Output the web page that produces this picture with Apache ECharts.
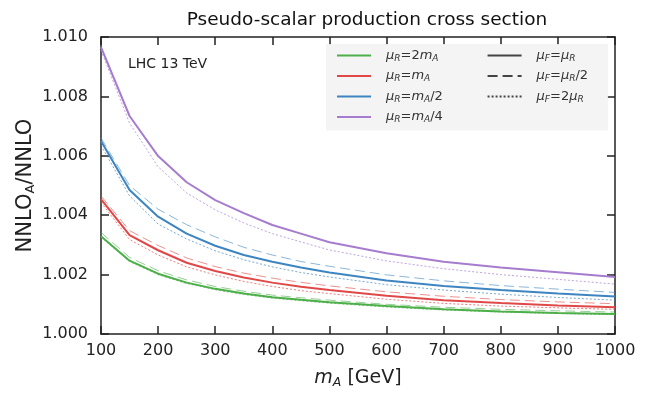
<!DOCTYPE html>
<html><head><meta charset="utf-8">
<script src="https://cdn.jsdelivr.net/npm/echarts@6/dist/echarts.min.js"></script>
<style>html,body{margin:0;padding:0;background:#fff}#c{width:648px;height:396px}</style>
</head><body><div id="c"></div>
<script>
var mA = [100,150,200,250,300,350,400,450,500,600,700,800,900,1000];
// mu_R = 2 m_A
var green_solid  = [1.00329,1.00247,1.00203,1.00173,1.00152,1.00136,1.00124,1.00115,1.00107,1.00094,1.00083,1.00076,1.00071,1.00067];
var green_dashed = [1.00342,1.00258,1.00213,1.00182,1.00160,1.00144,1.00131,1.00122,1.00114,1.00100,1.00090,1.00083,1.00078,1.00074];
var green_dotted = [1.00326,1.00244,1.00200,1.00170,1.00149,1.00133,1.00121,1.00112,1.00104,1.00091,1.00081,1.00074,1.00069,1.00065];
// mu_R = m_A
var red_solid  = [1.00454,1.00333,1.00282,1.00240,1.00212,1.00190,1.00173,1.00159,1.00148,1.00129,1.00114,1.00104,1.00096,1.00090];
var red_dashed = [1.00465,1.00348,1.00298,1.00256,1.00227,1.00205,1.00188,1.00174,1.00162,1.00142,1.00127,1.00116,1.00108,1.00102];
var red_dotted = [1.00443,1.00318,1.00266,1.00226,1.00199,1.00177,1.00160,1.00146,1.00136,1.00117,1.00103,1.00094,1.00088,1.00083];
// mu_R = m_A/2
var blue_solid  = [1.00650,1.00485,1.00395,1.00338,1.00297,1.00266,1.00243,1.00224,1.00207,1.00180,1.00162,1.00148,1.00136,1.00126];
var blue_dashed = [1.00660,1.00500,1.00420,1.00368,1.00327,1.00292,1.00266,1.00244,1.00228,1.00199,1.00179,1.00163,1.00151,1.00140];
var blue_dotted = [1.00635,1.00465,1.00370,1.00320,1.00280,1.00250,1.00226,1.00207,1.00192,1.00166,1.00148,1.00134,1.00123,1.00114];
// mu_R = m_A/4
var purple_solid  = [1.00966,1.00734,1.00599,1.00511,1.00451,1.00407,1.00367,1.00338,1.00309,1.00272,1.00243,1.00224,1.00208,1.00192];
var purple_dotted = [1.00955,1.00710,1.00563,1.00475,1.00418,1.00374,1.00338,1.00310,1.00283,1.00246,1.00220,1.00200,1.00184,1.00168];

var yTicks = [1.000,1.002,1.004,1.006,1.008,1.010];
var xTicks = [100,200,300,400,500,600,700,800,900,1000];

var C = {green:'#4daf4a', red:'#e04848', blue:'#3d85c0', purple:'#a57cce'};
var FONT = 'DejaVu Sans';
var NONE = 'rgba(0,0,0,0)';
var PAD = '\u00a0\u00a0\u00a0\u00a0\u00a0\u00a0\u00a0\u00a0\u00a0';

function pairs(arr){ return mA.map(function(x,i){ return [x, arr[i]]; }); }
function mk(name, arr, color, kind){
  var ls = {color: color, width: 2, type: 'solid', opacity: 1};
  if (kind === 'dashed'){ ls.width = 1; ls.type = [10,5]; ls.opacity = 0.6; }
  if (kind === 'dotted'){ ls.width = 1; ls.type = [2,2]; ls.opacity = 0.7; }
  return {name: name, type: 'line', data: pairs(arr), showSymbol: false, symbol: 'none',
          lineStyle: ls, itemStyle: {color: color}, z: kind === 'solid' ? 3 : 2, silent: true, animation: false};
}
function leg(name, color, type, width){
  return {name: name, type: 'line', data: [], symbol: 'circle', symbolSize: 0,
          lineStyle: {color: color, width: width, type: type},
          itemStyle: {color: NONE, borderColor: NONE, borderWidth: 0}};
}

var series = [
  mk('g_dot', green_dotted, C.green, 'dotted'),
  mk('g_dash', green_dashed, C.green, 'dashed'),
  mk('g_sol', green_solid, C.green, 'solid'),
  mk('r_dot', red_dotted, C.red, 'dotted'),
  mk('r_dash', red_dashed, C.red, 'dashed'),
  mk('r_sol', red_solid, C.red, 'solid'),
  mk('b_dot', blue_dotted, C.blue, 'dotted'),
  mk('b_dash', blue_dashed, C.blue, 'dashed'),
  mk('b_sol', blue_solid, C.blue, 'solid'),
  mk('p_dot', purple_dotted, C.purple, 'dotted'),
  mk('p_sol', purple_solid, C.purple, 'solid'),
  leg('L1', C.green, 'solid', 2),
  leg('L2', C.red, 'solid', 2),
  leg('L3', C.blue, 'solid', 2),
  leg('L4', C.purple, 'solid', 2),
  leg('L5', '#444', 'solid', 2),
  leg('L6', '#444', [10,5], 1),
  leg('L7', '#444', [2,2], 1)
];

var legendText = {
  L1: '{i|μ}{s|R}{n|=2}{i|m}{s|A}',
  L2: '{i|μ}{s|R}{n|=}{i|m}{s|A}',
  L3: '{i|μ}{s|R}{n|=}{i|m}{s|A}{n|/2' + PAD + '}',
  L4: '{i|μ}{s|R}{n|=}{i|m}{s|A}{n|/4' + PAD + '}',
  L5: '{i|μ}{s|F}{n|=}{i|μ}{s|R}',
  L6: '{i|μ}{s|F}{n|=}{i|μ}{s|R}{n|/2}',
  L7: '{i|μ}{s|F}{n|=2}{i|μ}{s|R}'
};
var legRich = {
  i: {fontFamily: FONT, fontSize: 13, fontStyle: 'italic', color: '#333'},
  n: {fontFamily: FONT, fontSize: 13, color: '#333'},
  s: {fontFamily: FONT, fontSize: 9, fontStyle: 'italic', color: '#333', padding: [6,0,0,0]}
};

var chart = echarts.init(document.getElementById('c'), null, {renderer: 'canvas'});
chart.setOption({
  animation: false,
  backgroundColor: '#fff',
  title: {text: 'Pseudo-scalar production cross section', left: 362, top: 6, textAlign: 'center',
          textStyle: {fontFamily: FONT, fontSize: 18.5, fontWeight: 'normal', color: '#111'}},
  grid: {left: 101, right: 33, top: 37, bottom: 62, show: false},
  legend: {
    data: ['L1','L2','L3','L4','L5','L6','L7'],
    orient: 'vertical', left: 326, top: 44, height: 86,
    backgroundColor: 'rgba(243,243,243,0.9)', padding: [5,20,6,10],
    itemWidth: 34, itemHeight: 10, itemGap: 6.5,
    selectedMode: false,
    formatter: function(n){ return legendText[n]; },
    textStyle: {fontFamily: FONT, fontSize: 13, color: '#333', padding: [0,0,0,10], rich: legRich}
  },
  xAxis: [{
    type: 'value', min: 100, max: 1000, interval: 100, position: 'bottom',
    name: '{i|m}{s|A}{n| [GeV]}', nameLocation: 'middle', nameGap: 34,
    nameTextStyle: {rich: {
      i: {fontFamily: FONT, fontSize: 19, fontStyle: 'italic', color: '#222'},
      n: {fontFamily: FONT, fontSize: 19, color: '#222'},
      s: {fontFamily: FONT, fontSize: 12.5, fontStyle: 'italic', color: '#222', padding: [8,0,0,0]}}},
    axisLine: {show: true, lineStyle: {color: '#222', width: 1.5}},
    axisTick: {show: true, inside: true, length: 8, lineStyle: {color: '#222', width: 1.5}},
    axisLabel: {fontFamily: FONT, fontSize: 16, color: '#222', margin: 9,
      formatter: function(v){ return String(v); }},
    splitLine: {show: false}
  },{
    type: 'value', min: 100, max: 1000, interval: 100, position: 'top',
    axisLine: {show: true, lineStyle: {color: '#222', width: 1.5}},
    axisTick: {show: true, inside: true, length: 8, lineStyle: {color: '#222', width: 1.5}},
    axisLabel: {show: false}, splitLine: {show: false}
  }],
  yAxis: [{
    type: 'value', min: 1.000, max: 1.010, interval: 0.002, position: 'left',
    name: '{n|NNLO}{s|A}{n|/NNLO}', nameLocation: 'middle', nameGap: 64, nameRotate: 90,
    nameMoveOverlap: false,
    nameTextStyle: {rich: {
      n: {fontFamily: FONT, fontSize: 21, color: '#222'},
      s: {fontFamily: FONT, fontSize: 13, color: '#222', padding: [9,0,0,0]}}},
    axisLine: {show: true, lineStyle: {color: '#222', width: 1.5}},
    axisTick: {show: true, inside: true, length: 8, lineStyle: {color: '#222', width: 1.5}},
    axisLabel: {fontFamily: FONT, fontSize: 16, color: '#222', margin: 13,
      formatter: function(v){ return v.toFixed(3); }},
    splitLine: {show: false}
  },{
    type: 'value', min: 1.000, max: 1.010, interval: 0.002, position: 'right',
    axisLine: {show: true, lineStyle: {color: '#222', width: 1.5}},
    axisTick: {show: true, inside: true, length: 8, lineStyle: {color: '#222', width: 1.5}},
    axisLabel: {show: false}, splitLine: {show: false}
  }],
  graphic: [{type: 'text', left: 128, top: 57,
    style: {text: 'LHC 13 TeV', fontFamily: FONT, fontSize: 14, fill: '#222'}}],
  series: series
});
</script></body></html>
